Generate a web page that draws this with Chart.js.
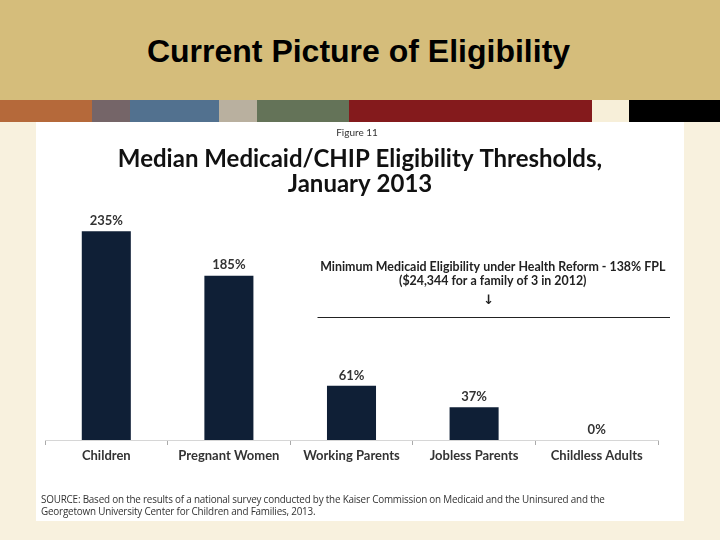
<!DOCTYPE html>
<html>
<head>
<meta charset="utf-8">
<script src="https://cdn.jsdelivr.net/npm/chart.js@4"></script>
<style>
  html, body { margin: 0; padding: 0; }
  body { width: 720px; height: 540px; background: #f8f1de; position: relative; overflow: hidden; font-family: "Liberation Sans", Arial, sans-serif; }
  #header { position: absolute; left: 0; top: 0; width: 720px; height: 100px; background: #d5bd7b; }
  #header h1 { margin: 0; position: absolute; left: 0; width: 717px; top: 33px; text-align: center; font: bold 32px "Liberation Sans", Arial, sans-serif; color: #000; line-height: 36px; }
  #stripe { position: absolute; left: 0; top: 100px; width: 720px; height: 22px; display: flex; }
  #stripe div { height: 100%; }
  #panel { position: absolute; left: 36px; top: 122px; width: 648px; height: 399px; background: #fff; }
  #source { position: absolute; left: 5px; top: 371px; font: 9.9px "Open Sans", sans-serif; color: #333; line-height: 12px; letter-spacing: -0.2px; }
</style>
</head>
<body>
<div id="header"><h1>Current Picture of Eligibility</h1></div>
<div id="stripe">
  <div style="width:92px;background:#b5693a"></div>
  <div style="width:38px;background:#756568"></div>
  <div style="width:89px;background:#52718f"></div>
  <div style="width:38px;background:#b9b09f"></div>
  <div style="width:92px;background:#647358"></div>
  <div style="width:243px;background:#841a1c"></div>
  <div style="width:37px;background:#f7efd9"></div>
  <div style="width:91px;background:#000"></div>
</div>
<div id="panel">
  <canvas id="chart" width="648" height="399"></canvas>
  <div id="source">SOURCE: Based on the results of a national survey conducted by the Kaiser Commission on Medicaid and the Uninsured and the<br>Georgetown University Center for Children and Families, 2013.</div>
</div>
<script>
"use strict";

const CATEGORIES = ["Children", "Pregnant Women", "Working Parents", "Jobless Parents", "Childless Adults"];
const THRESHOLDS = [235, 185, 61, 37, 0];
const REFORM_LEVEL = 138;
const REFORM_NOTE = ["Minimum Medicaid Eligibility under Health Reform - 138% FPL", "($24,344 for a family of 3 in 2012)"];
const FIGURE_LABEL = "Figure 11";
const TITLE_LINES = ["Median Medicaid/CHIP Eligibility Thresholds,", "January 2013"];

const FONT = '"Lato", "Open Sans", sans-serif';

// figure number + two-line title, centred on the whole panel (not the plot)
const heading = {
  id: "heading",
  afterDraw(chart) {
    const { ctx, width } = chart;
    const cx = width / 2;
    ctx.save();
    ctx.textAlign = "center";
    ctx.textBaseline = "middle";
    ctx.fillStyle = "#333";
    ctx.font = `10px ${FONT}`;
    ctx.fillText(FIGURE_LABEL, cx - 3, 11);
    ctx.fillStyle = "#111";
    ctx.font = `bold 24px ${FONT}`;
    ctx.fillText(TITLE_LINES[0], cx, 37);
    ctx.fillText(TITLE_LINES[1], cx, 62);
    ctx.restore();
  },
};

// percent labels above each bar
const valueLabels = {
  id: "valueLabels",
  afterDatasetsDraw(chart) {
    const { ctx } = chart;
    const meta = chart.getDatasetMeta(0);
    ctx.save();
    ctx.font = `bold 13px ${FONT}`;
    ctx.fillStyle = "#333";
    ctx.textAlign = "center";
    ctx.textBaseline = "bottom";
    meta.data.forEach((bar, i) => {
      ctx.fillText(`${THRESHOLDS[i]}%`, bar.x, bar.y - 4);
    });
    ctx.restore();
  },
};

// reform threshold line with its note and arrow
const reformLine = {
  id: "reformLine",
  afterDatasetsDraw(chart) {
    const { ctx, chartArea } = chart;
    const x = chart.scales.x, y = chart.scales.y;
    const yLine = Math.round(y.getPixelForValue(REFORM_LEVEL)) + 0.5;
    const left = x.getPixelForValue(2) - 34;
    const right = chartArea.right + 12;
    ctx.save();
    ctx.strokeStyle = "#222";
    ctx.lineWidth = 1;
    ctx.beginPath();
    ctx.moveTo(left, yLine);
    ctx.lineTo(right, yLine);
    ctx.stroke();
    const cx = (left + right) / 2 - 1;
    ctx.fillStyle = "#222";
    ctx.textAlign = "center";
    ctx.textBaseline = "middle";
    ctx.font = `bold 12.4px ${FONT}`;
    ctx.fillText(REFORM_NOTE[0], cx, yLine - 51);
    ctx.fillText(REFORM_NOTE[1], cx, yLine - 37);
    ctx.font = `bold 13px "DejaVu Sans", sans-serif`;
    ctx.fillText("\u2193", cx - 4, yLine - 17);
    ctx.restore();
  },
};

new Chart(document.getElementById("chart"), {
  type: "bar",
  data: {
    labels: CATEGORIES,
    datasets: [{
      data: THRESHOLDS,
      backgroundColor: "#0f1f36",
      barPercentage: 0.4,
      categoryPercentage: 1,
    }],
  },
  options: {
    responsive: false,
    animation: false,
    layout: { padding: { left: 9, right: 26, top: 96, bottom: 51 } },
    plugins: {
      legend: { display: false },
      tooltip: { enabled: false },
      title: { display: false },
    },
    scales: {
      x: {
        grid: { drawOnChartArea: false, drawTicks: true, tickLength: 5, color: "#aaa" },
        border: { color: "#d6d6d6" },
        ticks: { color: "#333", font: { family: FONT, size: 13, weight: "bold" }, padding: 3, maxRotation: 0 },
        afterFit: (s) => { s.height = 30; },
      },
      y: {
        display: false,
        min: 0,
        max: 250,
      },
    },
  },
  plugins: [heading, valueLabels, reformLine],
});
</script>
</body>
</html>
